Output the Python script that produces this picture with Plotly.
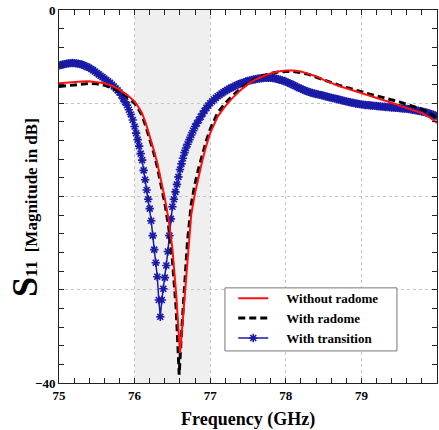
import numpy as np
import plotly.graph_objects as go

# Frequency sweeps (GHz) and |S11| values (dB)
freq_red = [75.0, 75.1, 75.2, 75.3, 75.4, 75.5, 75.6, 75.7, 75.8, 75.9, 76.0, 76.05, 76.1, 76.15,
            76.2, 76.25, 76.3, 76.35, 76.4, 76.45, 76.5, 76.55, 76.58, 76.6, 76.62, 76.65, 76.7,
            76.75, 76.8, 76.85, 76.9, 76.95, 77.0, 77.1, 77.2, 77.3, 77.4, 77.5, 77.6, 77.7, 77.8,
            77.9, 78.0, 78.1, 78.2, 78.3, 78.4, 78.5, 78.6, 78.7, 78.8, 78.9, 79.0, 79.1, 79.2,
            79.3, 79.4, 79.5, 79.6, 79.7, 79.8, 79.9, 80.0]
s11_without_radome = [-7.85, -7.78, -7.7, -7.66, -7.65, -7.72, -7.86, -8.12, -8.55, -9.1, -9.8, -10.4,
                      -11.1, -12.2, -13.5, -14.9, -16.4, -18.2, -20.2, -22.5, -25.6, -30.5, -34.3,
                      -36.8, -35.0, -31.8, -26.3, -21.9, -19.6, -17.7, -16.0, -14.5, -13.2, -11.4,
                      -10.3, -9.4, -8.6, -7.95, -7.45, -7.1, -6.8, -6.6, -6.5, -6.5, -6.6, -6.85,
                      -7.1, -7.5, -7.85, -8.15, -8.4, -8.65, -8.9, -9.15, -9.4, -9.65, -9.95, -10.25,
                      -10.5, -10.75, -11.05, -11.5, -12.1]

freq_black = [75.0, 75.1, 75.2, 75.3, 75.4, 75.5, 75.6, 75.7, 75.8, 75.9, 76.0, 76.05, 76.1, 76.15,
              76.2, 76.25, 76.3, 76.35, 76.4, 76.45, 76.5, 76.55, 76.57, 76.59, 76.61, 76.65, 76.7,
              76.75, 76.8, 76.85, 76.9, 76.95, 77.0, 77.1, 77.2, 77.3, 77.4, 77.5, 77.6, 77.7, 77.8,
              77.9, 78.0, 78.1, 78.2, 78.3, 78.4, 78.5, 78.6, 78.7, 78.8, 78.9, 79.0, 79.1, 79.2,
              79.3, 79.4, 79.5, 79.6, 79.7, 79.8, 79.9, 80.0]
s11_with_radome = [-8.2, -8.12, -8.02, -7.92, -7.88, -7.92, -8.06, -8.35, -8.75, -9.3, -10.0, -10.6,
                   -11.3, -12.5, -13.8, -15.2, -16.8, -18.6, -20.7, -23.2, -26.8, -32.0, -35.5,
                   -39.1, -36.0, -30.5, -24.8, -20.8, -18.6, -16.9, -15.4, -14.0, -12.8, -11.0,
                   -10.0, -9.15, -8.45, -7.85, -7.4, -7.05, -6.8, -6.65, -6.6, -6.6, -6.7, -6.9,
                   -7.2, -7.5, -7.8, -8.05, -8.3, -8.55, -8.8, -9.0, -9.2, -9.4, -9.6, -9.85,
                   -10.1, -10.35, -10.65, -11.05, -11.6]

# Sampling grid of the transition sweep: 25 MHz steps, 20 MHz steps around the notch
freq_blue = np.round(np.concatenate([
    np.arange(75.0, 75.9875, 0.025),
    np.arange(76.0, 76.7001, 0.02),
    np.arange(76.725, 80.0001, 0.025),
]), 4).tolist()
s11_with_transition = [
    # 75.000 - 75.975
    -5.95, -5.9, -5.85, -5.8, -5.75, -5.72, -5.7, -5.69, -5.7, -5.72,
    -5.75, -5.8, -5.85, -5.92, -6.0, -6.1, -6.2, -6.32, -6.45, -6.6,
    -6.75, -6.9, -7.05, -7.2, -7.35, -7.5, -7.65, -7.82, -8.0, -8.2,
    -8.4, -8.62, -8.85, -9.15, -9.5, -9.85, -10.2, -10.7, -11.2, -11.8,
    # 76.00 - 76.70
    -12.5, -13.2, -13.9, -14.6, -15.4, -16.1, -17.2, -18.2, -19.3, -20.3,
    -21.3, -22.6, -24.2, -25.7, -27.1, -28.6, -31.1, -32.9, -31.1, -29.9,
    -28.7, -27.4, -25.9, -24.2, -22.4, -21.1, -20.3, -19.5, -18.7, -17.9,
    -17.1, -16.5, -15.9, -15.3, -14.8, -14.4,
    # 76.725 - 80.000
    -13.9, -13.4, -12.95, -12.5, -12.15, -11.8, -11.45, -11.1, -10.8, -10.5,
    -10.25, -10.0, -9.8, -9.6, -9.42, -9.25, -9.1, -8.95, -8.82, -8.7,
    -8.57, -8.45, -8.35, -8.25, -8.15, -8.05, -7.97, -7.9, -7.82, -7.75,
    -7.67, -7.6, -7.55, -7.5, -7.46, -7.42, -7.38, -7.35, -7.32, -7.3,
    -7.28, -7.27, -7.26, -7.27, -7.29, -7.32, -7.37, -7.42, -7.48, -7.55,
    -7.62, -7.7, -7.78, -7.87, -7.96, -8.05, -8.15, -8.25, -8.35, -8.45,
    -8.54, -8.62, -8.7, -8.78, -8.84, -8.9, -8.95, -9.0, -9.05, -9.1,
    -9.15, -9.2, -9.25, -9.3, -9.35, -9.4, -9.45, -9.5, -9.55, -9.6,
    -9.65, -9.7, -9.75, -9.8, -9.85, -9.9, -9.94, -9.98, -10.02, -10.06,
    -10.09, -10.12, -10.15, -10.18, -10.2, -10.22, -10.24, -10.26, -10.28, -10.3,
    -10.32, -10.34, -10.36, -10.38, -10.4, -10.42, -10.43, -10.45, -10.47, -10.49,
    -10.5, -10.52, -10.54, -10.56, -10.58, -10.6, -10.63, -10.66, -10.69, -10.72,
    -10.76, -10.8, -10.84, -10.88, -10.93, -10.98, -11.04, -11.1, -11.17, -11.24,
    -11.32, -11.4,
]

x_ticks = [75, 76, 77, 78, 79, 80]
x_tick_text = ["75", "76", "77", "78", "79", "80"]
y_ticks = [-40, -30, -20, -10, 0]
y_tick_text = ["\u221240", "", "", "", "0"]
band = [76, 77]

SERIF = "Liberation Serif"
AX = "#222222"
PAD = "&nbsp;&nbsp;&nbsp;&nbsp;"

fig = go.Figure()

fig.add_trace(go.Scatter(
    x=freq_blue, y=s11_with_transition,
    name=PAD + "<b>With transition</b>",
    mode="lines+markers",
    line=dict(color="#1a1aa8", width=1.5),
    marker=dict(symbol="asterisk-open", size=7, color="#1a1aa8",
                line=dict(color="#1616a0", width=1.6)),
    legendrank=3,
))
fig.add_trace(go.Scatter(
    x=freq_black, y=s11_with_radome,
    name=PAD + "<b>With radome</b>", mode="lines",
    line=dict(color="black", width=3, dash="7px,4px"),
    legendrank=2,
))
fig.add_trace(go.Scatter(
    x=freq_red, y=s11_without_radome,
    name=PAD + "<b>Without radome</b>", mode="lines",
    line=dict(color="#ff1010", width=2),
    legendrank=1,
))

# Shaded operating band
fig.add_shape(type="rect", xref="x", yref="y", x0=band[0], x1=band[1], y0=-40, y1=0,
              fillcolor="#efefef", line=dict(width=0), layer="below")

# Legend frame
fig.add_shape(type="rect", xref="paper", yref="paper", x0=0.439, x1=0.894, y0=0.086, y1=0.255,
              fillcolor="white", line=dict(color="#777", width=1), layer="above")

tick_font = dict(family=SERIF, size=13, color="black", weight="bold")

fig.update_xaxes(
    range=[75, 80], tickvals=x_ticks, ticktext=x_tick_text,
    showline=True, linecolor=AX, linewidth=1, mirror=True,
    ticks="inside", ticklen=5, tickcolor=AX,
    minor=dict(dtick=0.2, ticks="inside", ticklen=5, tickcolor=AX, showgrid=False),
    showgrid=True, gridcolor="#c4c4c4", griddash="dot", gridwidth=1,
    zeroline=False, tickfont=tick_font,
)
fig.update_yaxes(
    range=[-40, 0], tickvals=y_ticks, ticktext=y_tick_text,
    showline=True, linecolor=AX, linewidth=1, mirror=True,
    ticks="inside", ticklen=5, tickcolor=AX,
    minor=dict(dtick=2, ticks="inside", ticklen=5, tickcolor=AX, showgrid=False),
    showgrid=True, gridcolor="#c4c4c4", griddash="dot", gridwidth=1,
    zeroline=False, tickfont=tick_font,
)

# Tick marks on the top and right edges of the frame
fig.update_layout(
    xaxis2=dict(overlaying="x", side="top", range=[75, 80], tickvals=x_ticks,
                showticklabels=False, ticks="inside", ticklen=5, tickcolor=AX,
                minor=dict(dtick=0.2, ticks="inside", ticklen=5, tickcolor=AX),
                showgrid=False, zeroline=False, showline=False),
    yaxis2=dict(overlaying="y", side="right", range=[-40, 0], tickvals=y_ticks,
                showticklabels=False, ticks="inside", ticklen=5, tickcolor=AX,
                minor=dict(dtick=2, ticks="inside", ticklen=5, tickcolor=AX),
                showgrid=False, zeroline=False, showline=False),
)
fig.add_trace(go.Scatter(x=[75, 80], y=[-40, 0], xaxis="x2", yaxis="y2", mode="none",
                         showlegend=False, hoverinfo="skip"))

fig.add_annotation(
    xref="paper", yref="paper", x=0.5, y=-0.098, showarrow=False,
    text="<b>Frequency (GHz)</b>",
    font=dict(family=SERIF, size=18, color="black"),
    xanchor="center", yanchor="middle",
)
fig.add_annotation(
    xref="paper", yref="paper", x=-0.09, y=0.472, showarrow=False, textangle=-90,
    text="<b><span style='font-size:36px'>S</span><span style='font-size:17px'>11 &nbsp;[Magnitude in dB]</span></b>",
    font=dict(family=SERIF, size=17, color="black"),
    xanchor="center", yanchor="middle",
)

fig.update_layout(
    width=439, height=430,
    margin=dict(l=59, r=2, t=10, b=47),
    paper_bgcolor="white", plot_bgcolor="white",
    showlegend=True,
    legend=dict(
        x=0.461, y=0.2675, xanchor="left", yanchor="top",
        bgcolor="rgba(0,0,0,0)", borderwidth=0,
        font=dict(family=SERIF, size=13, color="black"),
        tracegroupgap=0,
    ),
)

fig.write_html("out.html")
